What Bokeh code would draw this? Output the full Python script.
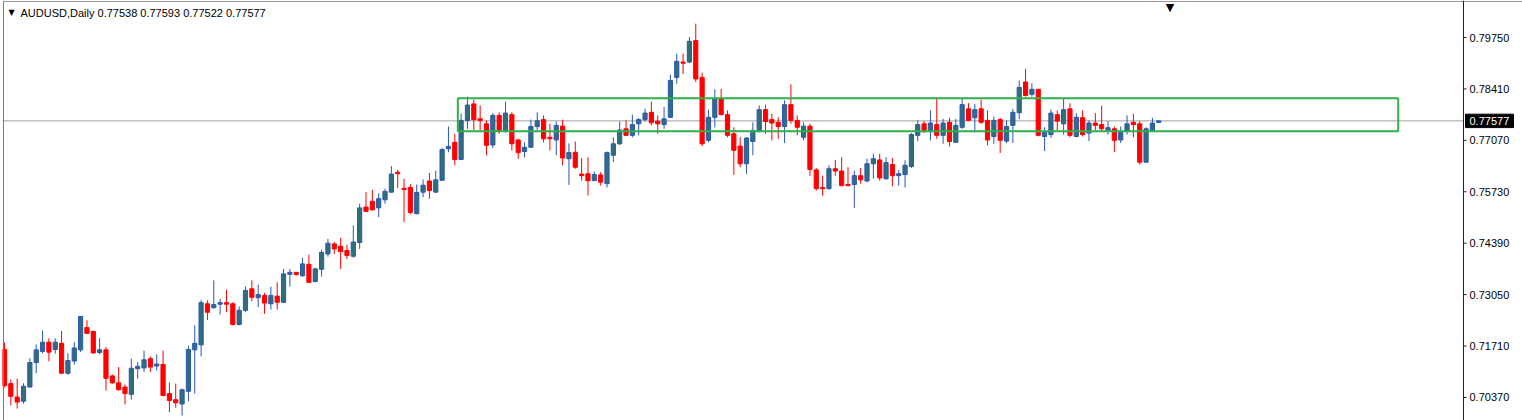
from bokeh.plotting import figure
from bokeh.models import ColumnDataSource, Label, Span, Range1d
from bokeh.core.properties import value
from bokeh.embed import file_html
from bokeh.resources import INLINE

symbol = "AUDUSD,Daily"
last_ohlc = ["0.77538", "0.77593", "0.77522", "0.77577"]
bid = 0.77577

opens = [0.7162, 0.7073, 0.7038, 0.7027, 0.7064, 0.7128, 0.7157, 0.7181, 0.7162, 0.7178,
         0.7100, 0.7132, 0.7161, 0.7219, 0.7209, 0.7154, 0.7161, 0.7093, 0.7075, 0.7064,
         0.7045, 0.7112, 0.7114, 0.7138, 0.7119, 0.7123, 0.7047, 0.7031, 0.7020, 0.7053,
         0.7161, 0.7174, 0.7281, 0.7271, 0.7280, 0.7284, 0.7281, 0.7227, 0.7264, 0.7320,
         0.7297, 0.7303, 0.7281, 0.7301, 0.7285, 0.7358, 0.7363, 0.7354, 0.7384, 0.7339,
         0.7371, 0.7411, 0.7437, 0.7431, 0.7420, 0.7405, 0.7441, 0.7533, 0.7548, 0.7531,
         0.7552, 0.7572, 0.7624, 0.7582, 0.7584, 0.7516, 0.7572, 0.7601, 0.7572, 0.7603,
         0.7685, 0.7702, 0.7657, 0.7759, 0.7802, 0.7763, 0.7750, 0.7695, 0.7772, 0.7733,
         0.7774, 0.7708, 0.7678, 0.7689, 0.7743, 0.7761, 0.7715, 0.7708, 0.7744, 0.7659,
         0.7676, 0.7619, 0.7620, 0.7602, 0.7617, 0.7594, 0.7668, 0.7698, 0.7737, 0.7720,
         0.7750, 0.7761, 0.7780, 0.7757, 0.7748, 0.7767, 0.7871, 0.7911, 0.7911, 0.7967,
         0.7871, 0.7707, 0.7767, 0.7815, 0.7774, 0.7724, 0.7692, 0.7646, 0.7704, 0.7733,
         0.7787, 0.7761, 0.7754, 0.7743, 0.7800, 0.7759, 0.7715, 0.7744, 0.7630, 0.7584,
         0.7581, 0.7633, 0.7627, 0.7592, 0.7592, 0.7615, 0.7601, 0.7646, 0.7656, 0.7607,
         0.7644, 0.7615, 0.7618, 0.7639, 0.7720, 0.7750, 0.7733, 0.7748, 0.7720, 0.7754,
         0.7702, 0.7741, 0.7789, 0.7766, 0.7789, 0.7759, 0.7717, 0.7761, 0.7705, 0.7746,
         0.7779, 0.7859, 0.7827, 0.7840, 0.7717, 0.7722, 0.7774, 0.7750, 0.7789, 0.7717,
         0.7766, 0.7726, 0.7752, 0.7748, 0.7733, 0.7737, 0.7708, 0.7731, 0.7754, 0.7750,
         0.7650, 0.7733, 0.77538]
highs = [0.7180, 0.7084, 0.7086, 0.7074, 0.7139, 0.7175, 0.7211, 0.7191, 0.7191, 0.7210,
         0.7152, 0.7181, 0.7248, 0.7238, 0.7211, 0.7192, 0.7168, 0.7097, 0.7116, 0.7071,
         0.7138, 0.7129, 0.7159, 0.7144, 0.7149, 0.7159, 0.7076, 0.7073, 0.7060, 0.7172,
         0.7225, 0.7291, 0.7290, 0.7342, 0.7294, 0.7318, 0.7285, 0.7274, 0.7326, 0.7342,
         0.7331, 0.7309, 0.7326, 0.7337, 0.7372, 0.7372, 0.7363, 0.7401, 0.7409, 0.7375,
         0.7422, 0.7450, 0.7442, 0.7453, 0.7435, 0.7485, 0.7542, 0.7572, 0.7578, 0.7569,
         0.7581, 0.7640, 0.7630, 0.7607, 0.7593, 0.7592, 0.7605, 0.7622, 0.7628, 0.7687,
         0.7743, 0.7724, 0.7777, 0.7821, 0.7813, 0.7798, 0.7759, 0.7778, 0.7780, 0.7808,
         0.7780, 0.7711, 0.7702, 0.7761, 0.7780, 0.7772, 0.7750, 0.7756, 0.7761, 0.7699,
         0.7704, 0.7661, 0.7663, 0.7626, 0.7624, 0.7678, 0.7715, 0.7756, 0.7759, 0.7774,
         0.7765, 0.7789, 0.7808, 0.7772, 0.7794, 0.7878, 0.7933, 0.7933, 0.7976, 0.8011,
         0.7883, 0.7787, 0.7840, 0.7841, 0.7785, 0.7741, 0.7715, 0.7715, 0.7754, 0.7798,
         0.7800, 0.7776, 0.7767, 0.7811, 0.7853, 0.7772, 0.7754, 0.7750, 0.7635, 0.7615,
         0.7642, 0.7656, 0.7663, 0.7637, 0.7628, 0.7635, 0.7659, 0.7672, 0.7672, 0.7663,
         0.7661, 0.7630, 0.7655, 0.7726, 0.7759, 0.7757, 0.7785, 0.7818, 0.7763, 0.7766,
         0.7763, 0.7815, 0.7804, 0.7802, 0.7813, 0.7785, 0.7769, 0.7766, 0.7759, 0.7789,
         0.7863, 0.7893, 0.7856, 0.7840, 0.7741, 0.7787, 0.7785, 0.7815, 0.7804, 0.7778,
         0.7785, 0.7759, 0.7778, 0.7797, 0.7757, 0.7743, 0.7743, 0.7772, 0.7776, 0.7757,
         0.7741, 0.7766, 0.77593]
lows = [0.7063, 0.7016, 0.7008, 0.7021, 0.7063, 0.7100, 0.7152, 0.7131, 0.7151, 0.7100,
        0.7096, 0.7123, 0.7155, 0.7203, 0.7151, 0.7149, 0.7055, 0.7073, 0.7055, 0.7019,
        0.7031, 0.7086, 0.7103, 0.7103, 0.7107, 0.7040, 0.6999, 0.7010, 0.6990, 0.7027,
        0.7047, 0.7144, 0.7239, 0.7268, 0.7253, 0.7259, 0.7225, 0.7225, 0.7259, 0.7288,
        0.7272, 0.7255, 0.7266, 0.7266, 0.7283, 0.7326, 0.7355, 0.7352, 0.7337, 0.7337,
        0.7352, 0.7404, 0.7411, 0.7372, 0.7398, 0.7401, 0.7424, 0.7522, 0.7524, 0.7507,
        0.7542, 0.7571, 0.7583, 0.7494, 0.7514, 0.7514, 0.7559, 0.7555, 0.7571, 0.7602,
        0.7676, 0.7642, 0.7657, 0.7737, 0.7733, 0.7733, 0.7668, 0.7687, 0.7724, 0.7727,
        0.7681, 0.7659, 0.7663, 0.7687, 0.7733, 0.7702, 0.7681, 0.7668, 0.7642, 0.7591,
        0.7633, 0.7602, 0.7563, 0.7601, 0.7589, 0.7584, 0.7650, 0.7695, 0.7718, 0.7715,
        0.7720, 0.7756, 0.7746, 0.7724, 0.7737, 0.7765, 0.7854, 0.7880, 0.7908, 0.7859,
        0.7692, 0.7702, 0.7741, 0.7772, 0.7715, 0.7617, 0.7637, 0.7620, 0.7668, 0.7728,
        0.7724, 0.7707, 0.7711, 0.7700, 0.7750, 0.7720, 0.7707, 0.7615, 0.7576, 0.7563,
        0.7578, 0.7615, 0.7587, 0.7587, 0.7531, 0.7594, 0.7598, 0.7607, 0.7602, 0.7604,
        0.7587, 0.7589, 0.7584, 0.7635, 0.7705, 0.7726, 0.7707, 0.7711, 0.7698, 0.7691,
        0.7700, 0.7737, 0.7757, 0.7728, 0.7750, 0.7694, 0.7698, 0.7674, 0.7700, 0.7700,
        0.7762, 0.7821, 0.7821, 0.7717, 0.7679, 0.7714, 0.7733, 0.7722, 0.7715, 0.7715,
        0.7717, 0.7705, 0.7733, 0.7731, 0.7722, 0.7676, 0.7700, 0.7722, 0.7715, 0.7644,
        0.7650, 0.7731, 0.77522]
closes = [0.7068, 0.7040, 0.7025, 0.7066, 0.7128, 0.7161, 0.7181, 0.7155, 0.7181, 0.7100,
          0.7133, 0.7166, 0.7248, 0.7204, 0.7153, 0.7161, 0.7087, 0.7075, 0.7057, 0.7047,
          0.7113, 0.7118, 0.7135, 0.7116, 0.7124, 0.7042, 0.7029, 0.7023, 0.7057, 0.7162,
          0.7178, 0.7284, 0.7259, 0.7279, 0.7284, 0.7280, 0.7227, 0.7264, 0.7316, 0.7298,
          0.7305, 0.7283, 0.7303, 0.7285, 0.7359, 0.7363, 0.7357, 0.7385, 0.7337, 0.7372,
          0.7415, 0.7439, 0.7424, 0.7417, 0.7407, 0.7442, 0.7531, 0.7522, 0.7526, 0.7555,
          0.7574, 0.7619, 0.7620, 0.7579, 0.7519, 0.7571, 0.7590, 0.7576, 0.7604, 0.7683,
          0.7691, 0.7657, 0.7759, 0.7799, 0.7761, 0.7759, 0.7694, 0.7772, 0.7733, 0.7778,
          0.7698, 0.7675, 0.7689, 0.7743, 0.7758, 0.7711, 0.7711, 0.7746, 0.7661, 0.7675,
          0.7637, 0.7615, 0.7602, 0.7618, 0.7598, 0.7675, 0.7698, 0.7734, 0.7720, 0.7748,
          0.7761, 0.7778, 0.7753, 0.7750, 0.7763, 0.7863, 0.7913, 0.7908, 0.7965, 0.7867,
          0.7698, 0.7767, 0.7815, 0.7774, 0.7720, 0.7681, 0.7646, 0.7713, 0.7733, 0.7787,
          0.7756, 0.7752, 0.7743, 0.7800, 0.7759, 0.7741, 0.7744, 0.7631, 0.7581, 0.7581,
          0.7633, 0.7627, 0.7589, 0.7589, 0.7615, 0.7604, 0.7646, 0.7659, 0.7609, 0.7649,
          0.7615, 0.7620, 0.7642, 0.7722, 0.7748, 0.7733, 0.7752, 0.7720, 0.7752, 0.7704,
          0.7746, 0.7800, 0.7759, 0.7787, 0.7754, 0.7708, 0.7759, 0.7707, 0.7743, 0.7780,
          0.7845, 0.7824, 0.7840, 0.7720, 0.7728, 0.7778, 0.7757, 0.7787, 0.7720, 0.7767,
          0.7722, 0.7752, 0.7746, 0.7737, 0.7740, 0.7707, 0.7728, 0.7750, 0.7748, 0.7650,
          0.7737, 0.7752, 0.77577]

price_ticks = [0.70370, 0.71710, 0.73050, 0.74390, 0.75730, 0.77070, 0.78410, 0.79750]
price_tick_labels = ["0.70370", "0.71710", "0.73050", "0.74390",
                     "0.75730", "0.77070", "0.78410", "0.79750"]

# support/resistance zone: [left bar, right bar, lower price, upper price]
zone_bars = [71.48, 219.76]
zone_prices = [0.7731, 0.7817]

n = len(opens)
idx = list(range(n))
bull = [c >= o for o, c in zip(opens, closes)]

BULL_LINE = "#2a56b8"
BULL_FILL = "#2e6f78"
BEAR = "#ff0000"

src = ColumnDataSource(dict(
    x=idx,
    top=[max(o, c) for o, c in zip(opens, closes)],
    bottom=[min(o, c) for o, c in zip(opens, closes)],
    high=highs,
    low=lows,
    wick=[BULL_LINE if b else BEAR for b in bull],
    fill=[BULL_FILL if b else BEAR for b in bull],
))

W, H = 1522, 420
FL = 2                     # frame starts 2px from the left; it spans the rest of the canvas
BAR_PX = 6.342             # pixels per bar
PRICE_PX = 0.0002606       # price per pixel
frame_w, frame_h = W - FL, H
x_start = -(4 - FL) / BAR_PX
x_end = x_start + frame_w / BAR_PX
y_end = 0.7975 + 37 * PRICE_PX
y_start = y_end - frame_h * PRICE_PX
px = 1.0 / BAR_PX
py = PRICE_PX

p = figure(width=W, height=H, output_backend="svg", toolbar_location=None,
           x_range=Range1d(x_start, x_end), y_range=Range1d(y_start, y_end),
           x_axis_location=None, y_axis_location=None,
           min_border_left=FL, min_border_right=0, min_border_top=0, min_border_bottom=0)
p.grid.visible = False
p.outline_line_color = None
p.background_fill_color = "white"
p.border_fill_color = "white"

# price scale column starts at this bar position
axis_x = x_start + (1463 - FL) * px

# chart frame lines
p.add_layout(Span(location=x_start + 1 * px, dimension="height", line_color="#7a7a7a", line_width=1))
p.add_layout(Span(location=y_end - 1 * py, dimension="width", line_color="#9a9a9a", line_width=1))
p.add_layout(Span(location=axis_x, dimension="height", line_color="#202020", line_width=1))

# bid line (chart area only)
p.segment(x0=[x_start], y0=[bid], x1=[axis_x], y1=[bid], line_color="#a0a0a0", line_width=1)

# wicks and bodies
p.segment(x0="x", y0="low", x1="x", y1="high", source=src, line_color="wick", line_width=1)
p.vbar(x="x", top="top", bottom="bottom", width=0.66, source=src,
       fill_color="fill", line_color="wick", line_width=1)

# zone rectangle
p.quad(left=[zone_bars[0]], right=[zone_bars[1]], bottom=[zone_prices[0]], top=[zone_prices[1]],
       fill_alpha=0, line_color="#2fb04a", line_width=2)

# price scale: ticks and labels
p.segment(x0=[axis_x] * len(price_ticks), y0=price_ticks,
          x1=[axis_x + 3 * px] * len(price_ticks), y1=price_ticks,
          line_color="#202020", line_width=1)
p.text(x=[axis_x + 6 * px] * len(price_ticks), y=price_ticks, text=price_tick_labels,
       text_font=value("Liberation Sans"), text_font_size="11px", text_color="#000000",
       text_align="left", text_baseline="middle")

# bid price tag
p.quad(left=[axis_x + 2 * px], right=[axis_x + 50 * px],
       bottom=[bid - 6.7 * py], top=[bid + 6.7 * py],
       fill_color="#000000", line_color="#000000")
p.text(x=[axis_x + 6 * px], y=[bid], text=[last_ohlc[3]],
       text_font=value("Liberation Sans"), text_font_size="11px", text_color="#ffffff",
       text_align="left", text_baseline="middle")

# header text
p.add_layout(Label(x=x_start + 9 * px, y=y_end - 11.5 * py, text="\u25bc", text_font="DejaVu Sans",
                   text_font_size="8px", text_align="center", text_baseline="middle",
                   text_color="#000000"))
p.add_layout(Label(x=x_start + 18 * px, y=y_end - 12 * py,
                   text=symbol + "  " + " ".join(last_ohlc),
                   text_font="Liberation Sans", text_font_size="11px",
                   text_baseline="middle", text_color="#000000"))
# chart shift marker
p.add_layout(Label(x=x_start + 1167.5 * px, y=y_end, text="\u25bc", text_font="DejaVu Sans",
                   text_font_size="11px", text_align="center", text_baseline="top",
                   text_color="#000000"))

open("out.html", "w").write(file_html(p, INLINE))
